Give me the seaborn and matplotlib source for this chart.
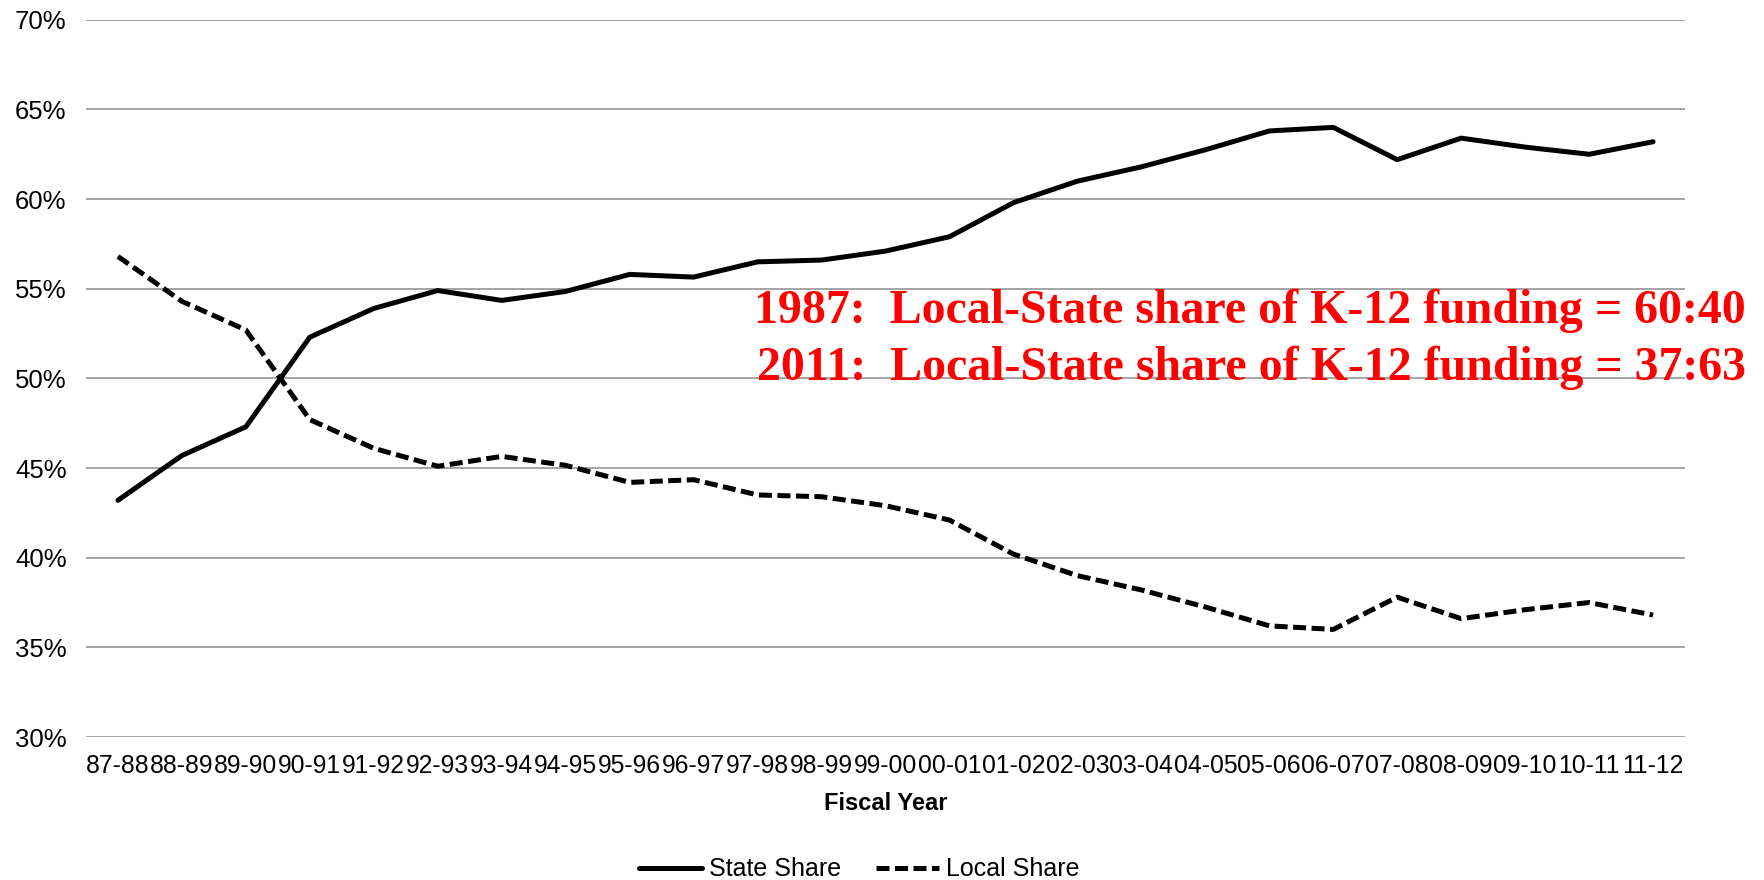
import numpy as np
import pandas as pd
import seaborn as sns
import matplotlib.pyplot as plt
from matplotlib.lines import Line2D

fiscal_year = ['87-88', '88-89', '89-90', '90-91', '91-92', '92-93', '93-94', '94-95',
               '95-96', '96-97', '97-98', '98-99', '99-00', '00-01', '01-02', '02-03',
               '03-04', '04-05', '05-06', '06-07', '07-08', '08-09', '09-10', '10-11', '11-12']
state_share = [43.2, 45.7, 47.3, 52.3, 53.9, 54.9, 54.35, 54.85, 55.8, 55.65, 56.5, 56.6, 57.1,
               57.9, 59.8, 61.0, 61.8, 62.75, 63.8, 64.0, 62.2, 63.4, 62.9, 62.5, 63.2]
local_share = [56.8, 54.3, 52.7, 47.7, 46.1, 45.1, 45.65, 45.15, 44.2, 44.35, 43.5, 43.4, 42.9,
               42.1, 40.2, 39.0, 38.2, 37.25, 36.2, 36.0, 37.8, 36.6, 37.1, 37.5, 36.8]

df = pd.concat([
    pd.DataFrame({'year': fiscal_year, 'share': state_share, 'series': 'State Share'}),
    pd.DataFrame({'year': fiscal_year, 'share': local_share, 'series': 'Local Share'}),
])

sns.set_style('white')
plt.rcParams['font.family'] = ['Liberation Sans', 'DejaVu Sans']
plt.rcParams['text.color'] = 'black'
plt.rcParams['axes.labelcolor'] = 'black'

fig = plt.figure(figsize=(17.65, 8.8), dpi=100)
ax = fig.add_axes([0.0487, 0.1625, 0.906, 0.815])

lw = 3.6
sns.lineplot(data=df, x='year', y='share', style='series', sort=False,
             dashes={'State Share': '', 'Local Share': (2.6, 1.1)},
             color='black', linewidth=lw, legend=False, ax=ax)
for ln in ax.lines:
    ln.set_solid_joinstyle('round')
    ln.set_solid_capstyle('round')
    ln.set_dash_capstyle('butt')

ax.set_xlim(-0.5, len(fiscal_year) - 0.5)
ax.set_ylim(30, 70)
ax.set_yticks(range(30, 71, 5))
ax.set_yticklabels([f'{v}%' for v in range(30, 71, 5)])
ax.yaxis.grid(True, color='#8c8c8c', linewidth=1.1)
ax.xaxis.grid(False)
ax.set_axisbelow(True)
for s in ax.spines.values():
    s.set_visible(False)
ax.tick_params(axis='both', length=0, colors='black')
ax.tick_params(axis='y', pad=14, labelsize=18.5)
ax.tick_params(axis='x', pad=12, labelsize=17.8)
ax.set_xlabel('Fiscal Year', fontsize=17, fontweight='bold', labelpad=10, color='black')
ax.set_ylabel('')

serif = ['Liberation Serif', 'DejaVu Serif']
fig.text(0.989, 0.633, '1987:  Local-State share of K-12 funding = 60:40',
         ha='right', va='baseline', color='red', fontsize=34.5, fontweight='bold', family=serif)
fig.text(0.989, 0.568, '2011:  Local-State share of K-12 funding = 37:63',
         ha='right', va='baseline', color='red', fontsize=34.5, fontweight='bold', family=serif)

handles = [Line2D([0], [0], color='black', lw=lw),
           Line2D([0], [0], color='black', lw=lw, dashes=(2.6, 1.1))]
fig.legend(handles, ['State Share', 'Local Share'], loc='center',
           bbox_to_anchor=(0.487, 0.012), ncol=2, frameon=False, fontsize=18,
           handlelength=2.5, handletextpad=0.3, columnspacing=1.4, labelcolor='black')

fig.savefig('out.png', dpi=100)
